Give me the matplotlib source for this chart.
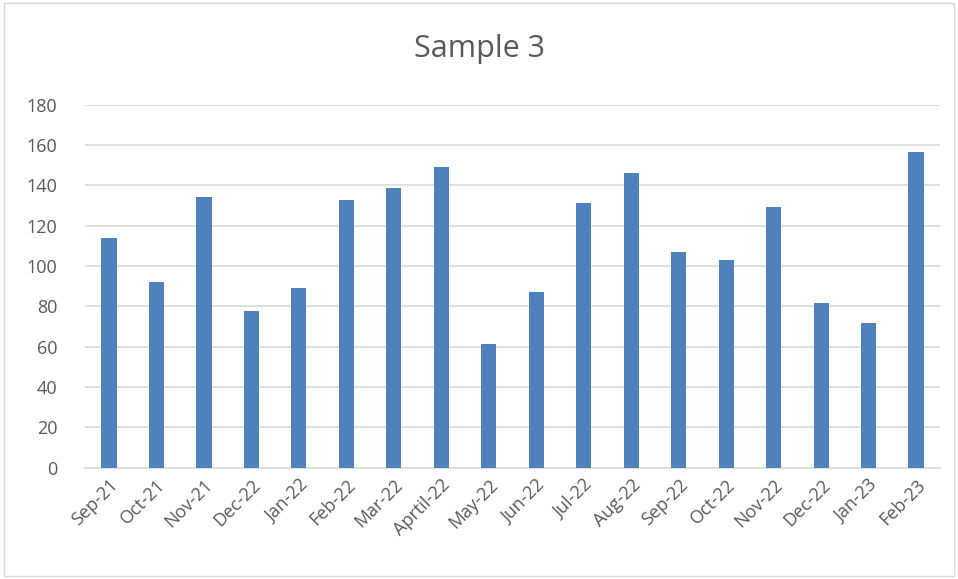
import matplotlib.pyplot as plt
from matplotlib.patches import Rectangle

plt.rcParams['font.family'] = ['Open Sans', 'DejaVu Sans']

# data
months = ['Sep-21', 'Oct-21', 'Nov-21', 'Dec-22', 'Jan-22', 'Feb-22', 'Mar-22',
          'Aprtil-22', 'May-22', 'Jun-22', 'Jul-22', 'Aug-22', 'Sep-22', 'Oct-22',
          'Nov-22', 'Dec-22', 'Jan-23', 'Feb-23']
values = [114, 92, 134.5, 78, 89, 133, 138.5, 149, 61.5, 87, 131.5, 146,
          107, 103, 129.5, 81.5, 72, 156.5]

fig = plt.figure(figsize=(9.58, 5.79), dpi=100)
ax = fig.add_axes([0.089, 0.192, 0.892, 0.627])

# outer chart border
fig.patches.append(Rectangle((0.004, 0.006), 0.992, 0.988, transform=fig.transFigure,
                             fill=False, edgecolor='#d9d9d9', linewidth=1))

x = range(len(months))
ax.bar(x, values, width=0.32, color='#4f81bd', zorder=3)

ax.set_xlim(-0.5, len(months) - 0.5)
ax.set_ylim(0, 180)
ax.set_yticks(range(0, 181, 20))
ax.grid(axis='y', color='#d9d9d9', linewidth=1.2, zorder=0)
ax.set_xticks(list(x))
ax.set_xticklabels(months, rotation=45, ha='right', rotation_mode='anchor')
ax.tick_params(axis='both', length=0, labelsize=13, labelcolor='#595959')
ax.tick_params(axis='x', pad=6)
ax.tick_params(axis='y', pad=20)
for side in ['top', 'right', 'left']:
    ax.spines[side].set_visible(False)
ax.spines['bottom'].set_color('#d9d9d9')
ax.spines['bottom'].set_linewidth(1.2)

fig.text(0.5, 0.915, 'Sample 3', ha='center', va='center', fontsize=22, color='#595959')

fig.savefig('out.png', dpi=100)
